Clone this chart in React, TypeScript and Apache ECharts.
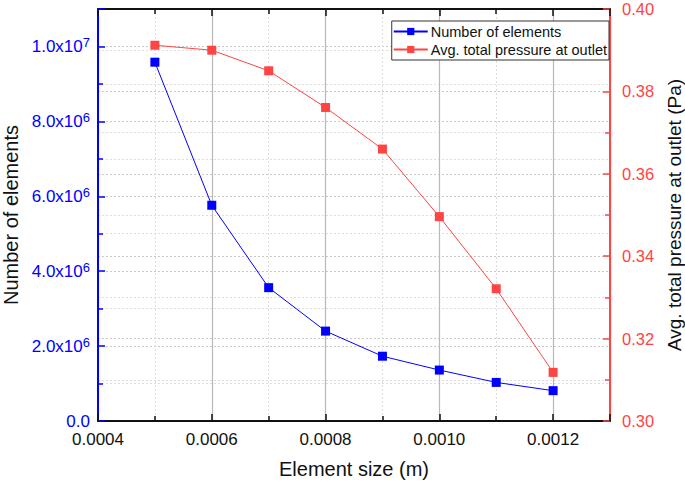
import React, { useEffect, useRef } from "react";
import * as echarts from "echarts";

const elementSizes = [0.0005, 0.0006, 0.0007, 0.0008, 0.0009, 0.001, 0.0011, 0.0012];
const numberOfElements = [9.58e6, 5.76e6, 3.56e6, 2.4e6, 1.73e6, 1.36e6, 1.03e6, 0.81e6];
const avgPressure = [0.3912, 0.39, 0.385, 0.3761, 0.366, 0.3496, 0.3321, 0.3118];

const BLUE = "#0000ff";
const RED = "#ff4444";
const FONT = "Liberation Sans";

function sciLabel(v: number): string {
  if (v === 0) return "0.0";
  const e = Math.floor(Math.log10(v) + 1e-9);
  const m = v / Math.pow(10, e);
  return m.toFixed(1) + "x10{sup|" + e + "}";
}

export default function App() {
  const ref = useRef<HTMLDivElement>(null);
  useEffect(() => {
    const chart = echarts.init(ref.current!, null, { renderer: "svg" });
    chart.setOption({
      animation: false,
      backgroundColor: "#ffffff",
      textStyle: { fontFamily: FONT },
      grid: { left: 98, right: 75, top: 9, bottom: 62, containLabel: false, outerBoundsMode: "none" },
      legend: {
        right: 76,
        top: 21,
        orient: "vertical",
        borderColor: "#333",
        borderWidth: 1,
        padding: [3, 2, 3, 1],
        itemGap: 3,
        itemWidth: 34,
        itemHeight: 9,
        backgroundColor: "#fff",
        textStyle: { fontFamily: FONT, fontSize: 14.5, color: "#111", padding: [0, 0, 0, -2] },
        data: ["Number of elements", "Avg. total pressure at outlet"],
      },
      xAxis: [
        {
          type: "value",
          min: 0.0004,
          max: 0.0013,
          interval: 0.0002,
          position: "bottom",
          name: "Element size (m)",
          nameLocation: "middle",
          nameGap: 38,
          nameTextStyle: { fontFamily: FONT, fontSize: 20, color: "#111" },
          axisLine: { show: true, onZero: false, lineStyle: { color: "#111", width: 2 } },
          axisTick: { show: true, inside: true, length: 7, lineStyle: { color: "#111", width: 1.5 } },
          minorTick: { show: true, splitNumber: 2, length: 5, lineStyle: { color: "#111", width: 1.5 } },
          axisLabel: {
            fontFamily: FONT,
            fontSize: 17,
            color: "#111",
            margin: 10,
            showMaxLabel: false,
            formatter: (v: number) => v.toFixed(4),
          },
          splitLine: { show: true, lineStyle: { color: "#b8b8b8", width: 1.2 } },
          minorSplitLine: { show: true, lineStyle: { color: "#dddddd", type: [2, 2], width: 1 } },
        },
        {
          type: "value",
          min: 0.0004,
          max: 0.0013,
          interval: 0.0002,
          position: "top",
          axisLine: { show: true, onZero: false, lineStyle: { color: "#111", width: 2 } },
          axisTick: { show: true, inside: true, length: 7, lineStyle: { color: "#111", width: 1.5 } },
          minorTick: { show: true, splitNumber: 2, length: 5, lineStyle: { color: "#111", width: 1.5 } },
          axisLabel: { show: false },
          splitLine: { show: false },
        },
      ],
      yAxis: [
        {
          type: "value",
          min: 0,
          max: 1.1e7,
          interval: 2e6,
          position: "left",
          name: "Number of elements",
          nameLocation: "middle",
          nameGap: 77,
          nameTextStyle: { fontFamily: FONT, fontSize: 20, color: "#111" },
          axisLine: { show: true, onZero: false, lineStyle: { color: BLUE, width: 2 } },
          axisTick: { show: true, inside: true, length: 7, lineStyle: { color: BLUE, width: 1.5 } },
          minorTick: { show: true, splitNumber: 2, length: 5, lineStyle: { color: BLUE, width: 1.5 } },
          axisLabel: {
            fontFamily: FONT,
            fontSize: 17,
            color: BLUE,
            margin: 8,
            showMaxLabel: false,
            formatter: (v: number) => sciLabel(v),
            rich: {
              sup: { fontFamily: FONT, fontSize: 13, color: BLUE, verticalAlign: "top", padding: [0, 0, 8, 0] },
            },
          },
          splitLine: { show: true, lineStyle: { color: "#c8c8c8", type: [2, 2], width: 1 } },
          minorSplitLine: { show: true, lineStyle: { color: "#dddddd", type: [2, 2], width: 1 } },
        },
        {
          type: "value",
          min: 0.3,
          max: 0.4,
          interval: 0.02,
          position: "right",
          name: "Avg. total pressure at outlet (Pa)",
          nameLocation: "middle",
          nameGap: 41,
          nameRotate: 90,
          nameTextStyle: { fontFamily: FONT, fontSize: 19, color: "#111" },
          axisLine: { show: true, onZero: false, lineStyle: { color: RED, width: 2 } },
          axisTick: { show: true, inside: true, length: 7, lineStyle: { color: RED, width: 1.5 } },
          minorTick: { show: true, splitNumber: 2, length: 5, lineStyle: { color: RED, width: 1.5 } },
          axisLabel: {
            fontFamily: FONT,
            fontSize: 16.5,
            color: RED,
            margin: 12,
            formatter: (v: number) => v.toFixed(2),
          },
          splitLine: { show: true, lineStyle: { color: "#c8c8c8", type: [2, 2], width: 1 } },
          minorSplitLine: { show: true, lineStyle: { color: "#dddddd", type: [2, 2], width: 1 } },
        },
      ],
      series: [
        {
          name: "Number of elements",
          type: "line",
          xAxisIndex: 0,
          yAxisIndex: 0,
          data: elementSizes.map((x, i) => [x, numberOfElements[i]]),
          symbol: "rect",
          symbolSize: 9,
          color: BLUE,
          lineStyle: { color: BLUE, width: 1 },
          itemStyle: { color: BLUE },
          z: 3,
        },
        {
          name: "Avg. total pressure at outlet",
          type: "line",
          xAxisIndex: 0,
          yAxisIndex: 1,
          data: elementSizes.map((x, i) => [x, avgPressure[i]]),
          symbol: "rect",
          symbolSize: 9,
          color: RED,
          lineStyle: { color: RED, width: 1 },
          itemStyle: { color: RED },
          z: 3,
        },
      ],
    });
    return () => chart.dispose();
  }, []);
  return (
    <div
      ref={ref}
      style={{ position: "fixed", left: 0, top: 0, width: 685, height: 483 }}
    />
  );
}
